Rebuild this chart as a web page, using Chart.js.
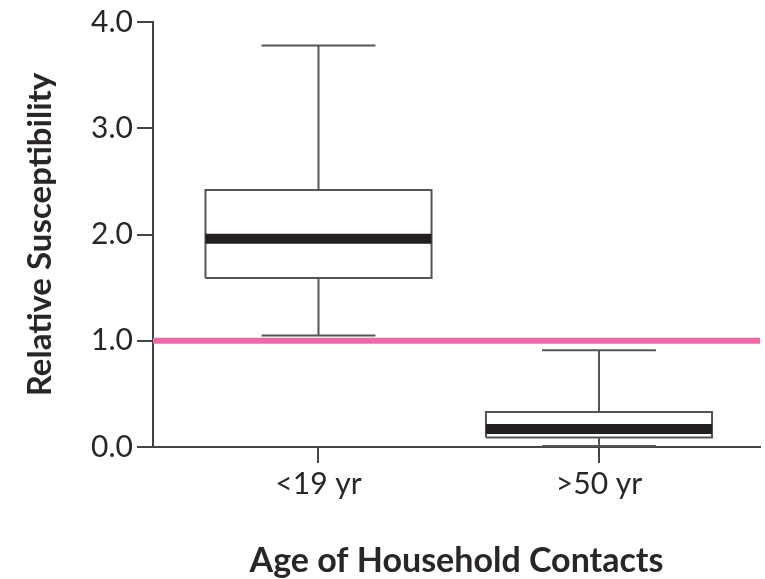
<!DOCTYPE html>
<html>
<head>
<meta charset="utf-8">
<script src="https://cdn.jsdelivr.net/npm/chart.js@4"></script>
<style>
  html, body { margin: 0; padding: 0; background: #fff; }
  canvas { display: block; }
</style>
</head>
<body>
<canvas id="c" width="765" height="579"></canvas>
<script>
// Age groups of household contacts
const categories = ['<19 yr', '>50 yr'];
// Box-plot summaries of relative susceptibility
const whiskerLow  = [1.05, 0.01];
const quartile1   = [1.59, 0.09];
const medians     = [1.96, 0.17];
const quartile3   = [2.42, 0.33];
const whiskerHigh = [3.78, 0.91];
// Reference level (no difference)
const referenceValue = 1.0;
const yTicks = [0, 1, 2, 3, 4];

const BOX_HALF = 0.403;
const CAP_HALF = 0.203;
const X_MIN = 0.41, X_MAX = 2.574;

const gap = (x) => ({ x: x, y: null });

function boxOutlines() {
  const pts = [];
  categories.forEach((_, i) => {
    const c = i + 1;
    pts.push({ x: c - BOX_HALF, y: quartile1[i] }, { x: c - BOX_HALF, y: quartile3[i] },
             { x: c + BOX_HALF, y: quartile3[i] }, { x: c + BOX_HALF, y: quartile1[i] },
             { x: c - BOX_HALF, y: quartile1[i] }, gap(c));
  });
  return pts;
}
function medianLines() {
  const pts = [];
  categories.forEach((_, i) => {
    const c = i + 1;
    pts.push({ x: c - BOX_HALF, y: medians[i] }, { x: c + BOX_HALF, y: medians[i] }, gap(c));
  });
  return pts;
}
function whiskerStems() {
  const pts = [];
  categories.forEach((_, i) => {
    const c = i + 1;
    pts.push({ x: c, y: quartile3[i] }, { x: c, y: whiskerHigh[i] }, gap(c),
             { x: c, y: quartile1[i] }, { x: c, y: whiskerLow[i] }, gap(c));
  });
  return pts;
}
function whiskerCaps() {
  const pts = [];
  categories.forEach((_, i) => {
    const c = i + 1;
    pts.push({ x: c - CAP_HALF, y: whiskerHigh[i] }, { x: c + CAP_HALF, y: whiskerHigh[i] }, gap(c),
             { x: c - CAP_HALF, y: whiskerLow[i] }, { x: c + CAP_HALF, y: whiskerLow[i] }, gap(c));
  });
  return pts;
}

const lineBase = { showLine: true, pointRadius: 0, pointHoverRadius: 0, fill: false,
                   spanGaps: false, tension: 0, clip: false, borderCapStyle: 'butt', borderJoinStyle: 'miter' };

const FONT = "Lato, 'Open Sans', sans-serif";
const TEXT = '#2a2627';
const AXIS = '#444';

new Chart(document.getElementById('c'), {
  type: 'scatter',
  data: {
    datasets: [
      Object.assign({ label: 'median', data: medianLines(), borderColor: '#231f20', borderWidth: 10, order: 0 }, lineBase),
      Object.assign({ label: 'box', data: boxOutlines(), borderColor: '#555', borderWidth: 2, order: 1 }, lineBase),
      Object.assign({ label: 'whisker', data: whiskerStems(), borderColor: '#555', borderWidth: 2, order: 2 }, lineBase),
      Object.assign({ label: 'cap', data: whiskerCaps(), borderColor: '#555', borderWidth: 2, order: 2 }, lineBase),
      Object.assign({ label: 'reference', data: [{ x: X_MIN, y: referenceValue }, { x: X_MAX, y: referenceValue }],
                      borderColor: '#f068a6', borderWidth: 6, order: 3 }, lineBase)
    ]
  },
  options: {
    responsive: false,
    animation: false,
    layout: { padding: { top: 22, right: 5, left: 0, bottom: 0 } },
    plugins: { legend: { display: false }, tooltip: { enabled: false } },
    scales: {
      x: {
        type: 'linear',
        min: X_MIN, max: X_MAX,
        afterBuildTicks: (axis) => { axis.ticks = categories.map((_, i) => ({ value: i + 1 })); },
        afterFit: (axis) => { axis.height = 132; },
        ticks: {
          callback: (v) => categories[Math.round(v) - 1],
          font: { family: FONT, size: 30, lineHeight: 1.0 },
          color: TEXT, padding: 6, maxRotation: 0, autoSkip: false
        },
        grid: { drawOnChartArea: false, drawTicks: true, tickLength: 16, color: AXIS, lineWidth: 2 },
        border: { display: true, color: AXIS, width: 2 },
        title: { display: true, text: 'Age of Household Contacts',
                 font: { family: FONT, size: 34, weight: 'bold', lineHeight: 1.0 }, color: TEXT,
                 padding: { top: 0, bottom: 1 } }
      },
      y: {
        min: 0, max: 4,
        afterBuildTicks: (axis) => { axis.ticks = yTicks.map(v => ({ value: v })); },
        afterFit: (axis) => { axis.width = 153; },
        ticks: {
          callback: (v) => v.toFixed(1),
          font: { family: FONT, size: 30 },
          color: TEXT, padding: 4
        },
        grid: { drawOnChartArea: false, drawTicks: true, tickLength: 16, color: AXIS, lineWidth: 2 },
        border: { display: true, color: AXIS, width: 2 },
        title: { display: true, text: 'Relative Susceptibility',
                 font: { family: FONT, size: 33, weight: 'bold', lineHeight: 1.0 }, color: TEXT,
                 padding: { top: 24, bottom: 0 } }
      }
    }
  }
});
</script>
</body>
</html>
